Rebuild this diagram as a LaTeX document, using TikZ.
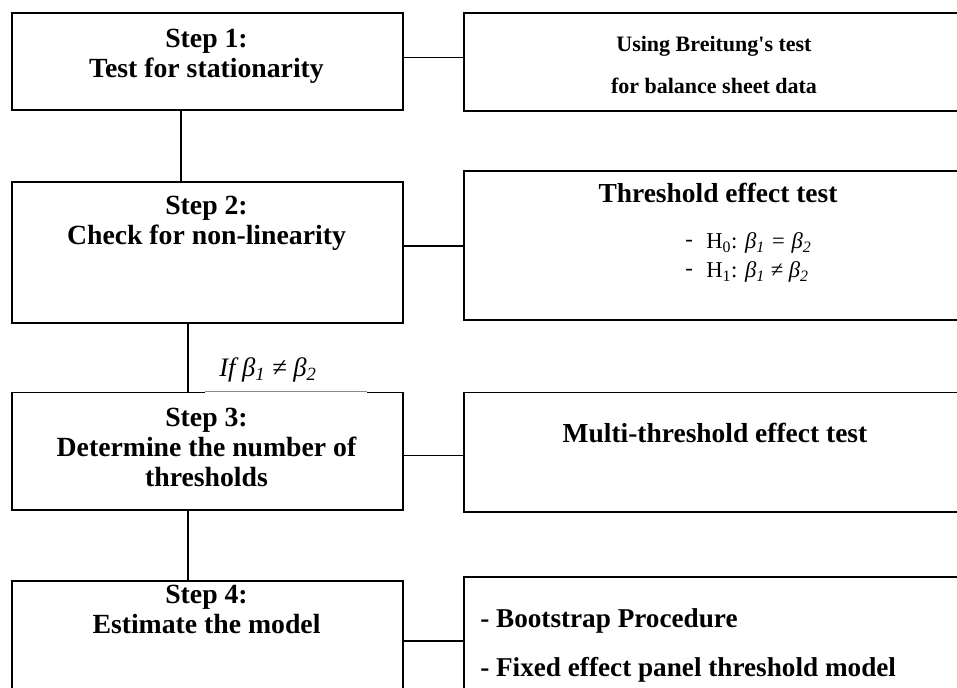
\documentclass[tikz,border=0pt]{standalone}
\usepackage{fontspec}
\setmainfont{Liberation Serif}
\newfontfamily\nqfont{Liberation Serif}
\begin{document}
\begin{tikzpicture}[x=0.75pt,y=-0.75pt,
  box/.style={draw=black, line width=1.4pt, rectangle, inner sep=0pt, anchor=north west},
  link/.style={draw=black, line width=1.4pt},
  bigbold/.style={align=center, inner sep=0pt, font=\fontsize{20.8}{22.5}\selectfont\bfseries},
  rightbold/.style={align=center, inner sep=0pt, font=\fontsize{20.6}{22}\selectfont\bfseries},
  smallbold/.style={align=center, inner sep=0pt, font=\fontsize{16.5}{23.5}\selectfont\bfseries},
  plain/.style={align=left, inner sep=0pt, anchor=west, font=\fontsize{17}{20}\selectfont},
  listbold/.style={align=left, inner sep=0pt, anchor=west, font=\fontsize{20.4}{22}\selectfont\bfseries}]
\useasboundingbox (0,0) rectangle (957,688);
\begin{scope}
\clip (0,0) rectangle (957,688);
% left boxes
\node[box, minimum width=293.25pt, minimum height=72.75pt] (l1) at (11,12) {};
\node[box, minimum width=293.25pt, minimum height=106.1pt] (l2) at (11,181) {};
\node[box, minimum width=293.25pt, minimum height=88.1pt] (l3) at (11,391.5) {};
\node[box, minimum width=293.25pt, minimum height=90pt] (l4) at (11,580) {};
% right boxes
\node[box, minimum width=402.75pt, minimum height=73.5pt] (r1) at (463,12) {};
\node[box, minimum width=402.75pt, minimum height=111.75pt] (r2) at (463,170) {};
\node[box, minimum width=402.75pt, minimum height=89.6pt] (r3) at (463,391.5) {};
\node[box, minimum width=402.75pt, minimum height=93pt] (r4) at (463,576) {};
% horizontal connectors
\draw[link] (l1.east |- 0,57.5) -- (r1.west |- 0,57.5);
\draw[link] (l2.east |- 0,246) -- (r2.west |- 0,246);
\draw[link] (l3.east |- 0,455.5) -- (r3.west |- 0,455.5);
\draw[link] (l4.east |- 0,641) -- (r4.west |- 0,641);
% vertical connectors
\draw[link] (l1.south -| 181,0) -- (l2.north -| 181,0);
\draw[link] (l2.south -| 188,0) -- (l3.north -| 188,0);
\draw[link] (l3.south -| 188,0) -- (l4.north -| 188,0);
% label patch over top of step 3 box
\node[fill=white, inner sep=0pt, minimum width=121.5pt, minimum height=4pt, anchor=south west] (patch) at (205,394) {};
\coordinate (pl) at (205,391.5);
\coordinate (pr) at (367,391.5);
\draw[black!45, line width=0.9pt] (pl) -- (pr);
\node[font=\fontsize{20}{22}\selectfont\itshape, inner sep=0pt] (cond) at (268,370) {If β\textsubscript{1} ≠ β\textsubscript{2}};
% step texts
\node[bigbold] (s1) at (206.5,56) {Step 1:\\Test for stationarity};
\node[bigbold] (s2) at (206.5,223) {Step 2:\\Check for non-linearity};
\node[bigbold] (s3) at (206.5,447) {Step 3:\\Determine the number of\\thresholds};
\node[bigbold] (s4) at (206.5,609) {Step 4:\\Estimate the model};
% right texts
\node[smallbold] (b1) at (714,65) {Using Breitung{\nqfont\bfseries '}s test\\[8pt]for balance sheet data};
\node[rightbold] (b2) at (718,193) {Threshold effect test};
\node[plain] (h0d) at (685,243) {-};
\node[plain] (h0) at (706,243) {H\textsubscript{0}: \textit{β\textsubscript{1} = β\textsubscript{2}}};
\node[plain] (h1d) at (685,272) {-};
\node[plain] (h1) at (706,272) {H\textsubscript{1}: \textit{β\textsubscript{1} ≠ β\textsubscript{2}}};
\node[rightbold] (b3) at (715,433) {Multi-threshold effect test};
\node[listbold] (b4a) at (480,621) {- Bootstrap Procedure};
\node[listbold] (b4b) at (480,670) {- Fixed effect panel threshold model};
\end{scope}
\end{tikzpicture}
\end{document}
